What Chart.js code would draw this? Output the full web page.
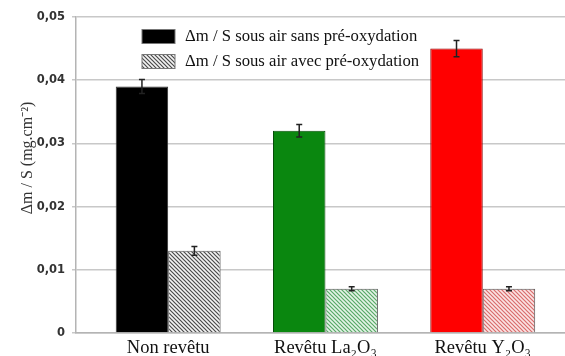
<!DOCTYPE html>
<html><head><meta charset="utf-8">
<script src="https://cdn.jsdelivr.net/npm/chart.js@4"></script>
<style>html,body{margin:0;padding:0;background:#fff}#wrap{width:565px;height:356px;position:relative}</style>
</head><body><div id="wrap"><canvas id="c" width="565" height="356"></canvas></div>
<script>
// ---- data ----
const categories = ['Non revêtu', 'Revêtu La₂O₃', 'Revêtu Y₂O₃'];
const seriesLabels = ['Δm / S sous air sans pré-oxydation', 'Δm / S sous air avec pré-oxydation'];
const sansPreOx = [0.039, 0.032, 0.045];
const sansPreOxErr = [0.0011, 0.001, 0.0013];
const avecPreOx = [0.013, 0.007, 0.007];
const avecPreOxErr = [0.0007, 0.0003, 0.0003];
const yTicks = [0, 0.01, 0.02, 0.03, 0.04, 0.05];
const yTickLabels = ['0', '0,01', '0,02', '0,03', '0,04', '0,05'];
const yTitle = 'Δm / S (mg.cm⁻²)';

// ---- styles ----
const solidColors = ['#000000', '#0a870f', '#ff0000'];
const solidBorders = ['#333333', '#064d09', '#8a0000'];
const hatchSpecs = [['#f4f4f4', '#4a4a4a'], ['#e4f4e7', '#58a866'], ['#fbe4e4', '#d96c6c']];
const serif = "'Liberation Serif', 'Times New Roman', serif";

function makeHatch(bg, line) {
  const c = document.createElement('canvas');
  c.width = 4; c.height = 4;
  const g = c.getContext('2d');
  g.fillStyle = bg; g.fillRect(0, 0, 4, 4);
  g.strokeStyle = line; g.lineWidth = 1.2;
  g.beginPath();
  g.moveTo(-1, -1); g.lineTo(5, 5);
  g.moveTo(-1, 3); g.lineTo(1, 5);
  g.moveTo(3, -1); g.lineTo(5, 1);
  g.stroke();
  return document.getElementById('c').getContext('2d').createPattern(c, 'repeat');
}
const hatches = hatchSpecs.map(s => makeHatch(s[0], s[1]));

const xPos = categories.map((_, i) => i + 1);

const errorBarPlugin = {
  id: 'errbars',
  afterDatasetsDraw(chart) {
    const ctx = chart.ctx, y = chart.scales.y;
    chart.data.datasets.forEach((ds, di) => {
      const meta = chart.getDatasetMeta(di);
      meta.data.forEach((bar, i) => {
        const v = ds.data[i].y, e = ds.err[i];
        const top = y.getPixelForValue(v + e), bot = y.getPixelForValue(v - e);
        ctx.save();
        ctx.strokeStyle = '#222'; ctx.lineWidth = 1.5;
        ctx.beginPath();
        ctx.moveTo(bar.x, top); ctx.lineTo(bar.x, bot);
        ctx.moveTo(bar.x - 3, top); ctx.lineTo(bar.x + 3, top);
        ctx.moveTo(bar.x - 3, bot); ctx.lineTo(bar.x + 3, bot);
        ctx.stroke();
        ctx.restore();
      });
    });
  }
};

const legendPlugin = {
  id: 'customLegend',
  afterDraw(chart) {
    const ctx = chart.ctx;
    const fills = ['#000000', makeHatch(hatchSpecs[0][0], hatchSpecs[0][1])];
    ctx.save();
    chart.data.datasets.forEach((ds, i) => {
      const by = 29.5 + i * 25;
      ctx.fillStyle = fills[i];
      ctx.fillRect(142, by, 33, 14);
      ctx.strokeStyle = '#777'; ctx.lineWidth = 1;
      ctx.strokeRect(142, by, 33, 14);
      ctx.fillStyle = '#111';
      ctx.font = '16.7px ' + serif;
      ctx.textBaseline = 'middle';
      ctx.textAlign = 'left';
      ctx.fillText(ds.label, 185, by + 7.5);
    });
    ctx.restore();
  }
};

const yTitlePlugin = {
  id: 'yTitle',
  afterDraw(chart) {
    const ctx = chart.ctx;
    ctx.save();
    ctx.translate(28, 158);
    ctx.rotate(-Math.PI / 2);
    ctx.fillStyle = '#333';
    ctx.font = '16px ' + serif;
    ctx.textAlign = 'center';
    ctx.textBaseline = 'middle';
    ctx.fillText(yTitle, 0, 0);
    ctx.restore();
  }
};

new Chart(document.getElementById('c'), {
  type: 'bar',
  data: {
    datasets: [
      { label: seriesLabels[0], data: xPos.map((x, i) => ({ x, y: sansPreOx[i] })), err: sansPreOxErr,
        backgroundColor: solidColors, borderColor: solidBorders, borderWidth: 1 },
      { label: seriesLabels[1], data: xPos.map((x, i) => ({ x, y: avecPreOx[i] })), err: avecPreOxErr,
        backgroundColor: hatches, borderColor: '#555', borderWidth: 1 }
    ]
  },
  options: {
    responsive: false,
    animation: false,
    layout: { padding: { top: 17, right: 0, left: 0, bottom: 0 } },
    plugins: { legend: { display: false }, tooltip: { enabled: false } },
    datasets: { bar: { categoryPercentage: 0.667, barPercentage: 1 } },
    scales: {
      x: {
        type: 'linear', min: 0.414, max: 3.523, offset: false,
        grid: { display: false, drawTicks: false },
        border: { color: '#b4b4b4', width: 1.5 },
        afterBuildTicks: s => { s.ticks = xPos.map(v => ({ value: v })); },
        ticks: { callback: v => categories[xPos.indexOf(v)], font: { family: serif, size: 18.5 }, color: '#111',
                 padding: 4, maxRotation: 0, autoSkip: false },
        afterFit: s => { s.height = 23; }
      },
      y: {
        min: 0, max: 0.05,
        afterBuildTicks: s => { s.ticks = yTicks.map(v => ({ value: v })); },
        ticks: { callback: v => yTickLabels[yTicks.indexOf(v)], font: { family: "'DejaVu Sans', sans-serif", size: 11.5, weight: 'bold' },
                 color: '#333', padding: 7 },
        grid: { color: '#c8c8c8', lineWidth: 1.5, tickLength: 4 },
        border: { color: '#b4b4b4', width: 1.5 },
        afterFit: s => { s.width = 76; }
      }
    }
  },
  plugins: [errorBarPlugin, legendPlugin, yTitlePlugin]
});
</script>
</body></html>
